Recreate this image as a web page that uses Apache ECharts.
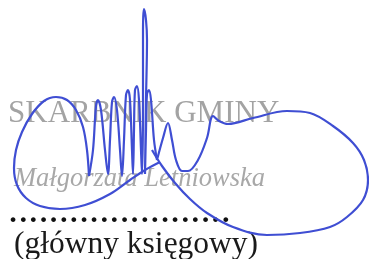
<!DOCTYPE html>
<html>
<head>
<meta charset="utf-8">
<script src="https://cdn.jsdelivr.net/npm/echarts@6/dist/echarts.min.js"></script>
<style>
  html, body { margin: 0; padding: 0; background: #fff; }
  #chart { width: 369px; height: 259px; }
</style>
</head>
<body>
<div id="chart"></div>
<script>
var chartDom = document.getElementById('chart');
var chart = echarts.init(chartDom);

// texts of the stamp
var titleText = 'SKARBNIK GMINY';
var nameText = 'Małgorzata Letniowska';
var dotsText = '......................';
var roleText = '(główny księgowy)';

// signature stroke, picture coordinates (x right, y down)
var leftLobe = [
  [160,162],[145,170],[130,180],[110,194],[85,205],[60,209],[40,206],[26,198],
  [17,185],[14,168],[16,150],[22,132],[32,114],[44,101],[56,97],[67,100],
  [76,110],[83,127],[87,150],[89,176]
];
var zigzag = [
  [89,176],[93,150],[96,106],[98,100],[101,110],[105,150],[108,174],
  [110,140],[112,102],[114,97],[117,110],[120,150],[122,176],
  [124,140],[126,95],[128,90],[130,100],[132,150],[133,174],
  [134,130],[135,90],[137,86],[139,100],[141,150],[142,174],
  [143,100],[143,30],[144,9],[146,20],[147,40],[146,100],[145,174],
  [146,130],[147,94],[149,90],[151,100],[154,140],[157,160]
];
var rightLoop = [
  [157,160],[163,138],[168,123],[172,140],[176,160],[182,171],[188,171],
  [198,160],[207,138],[213,116],[219,121],[228,124],[253,118],[287,111],
  [310,113],[333,126],[353,143],[364,160],[368,180],[363,200],[347,217],
  [330,227],[300,233],[267,235],[233,227],[207,213],[190,199],[175,183],
  [162,166],[152,150]
];

var strokeStyle = { color: '#3f4ed3', width: 2.2 };

function stroke(points) {
  return {
    type: 'line',
    data: points,
    smooth: 0.35,
    symbol: 'none',
    silent: true,
    lineStyle: strokeStyle,
    z: 5
  };
}

var option = {
  animation: false,
  grid: { left: 0, right: 0, top: 0, bottom: 0 },
  xAxis: { type: 'value', min: 0, max: 369, show: false },
  yAxis: { type: 'value', min: 0, max: 259, inverse: true, show: false },
  graphic: [
    {
      type: 'text', left: 8, top: 98, z: 1,
      style: { text: titleText, font: '31px "Liberation Serif"', fill: '#a3a3a3' }
    },
    {
      type: 'text', left: 14, top: 166, z: 1,
      style: { text: nameText, font: 'italic 26.5px "Liberation Serif"', fill: '#a8a8a8' }
    },
    {
      type: 'text', left: 8, top: 191, z: 1,
      style: { text: dotsText, font: '40.5px "Liberation Serif"', fill: '#111' }
    },
    {
      type: 'text', left: 14, top: 229, z: 1,
      style: { text: roleText, font: '31.5px "Liberation Serif"', fill: '#1a1a1a' }
    }
  ],
  series: [stroke(leftLobe), stroke(zigzag), stroke(rightLoop)]
};

option && chart.setOption(option);
</script>
</body>
</html>
